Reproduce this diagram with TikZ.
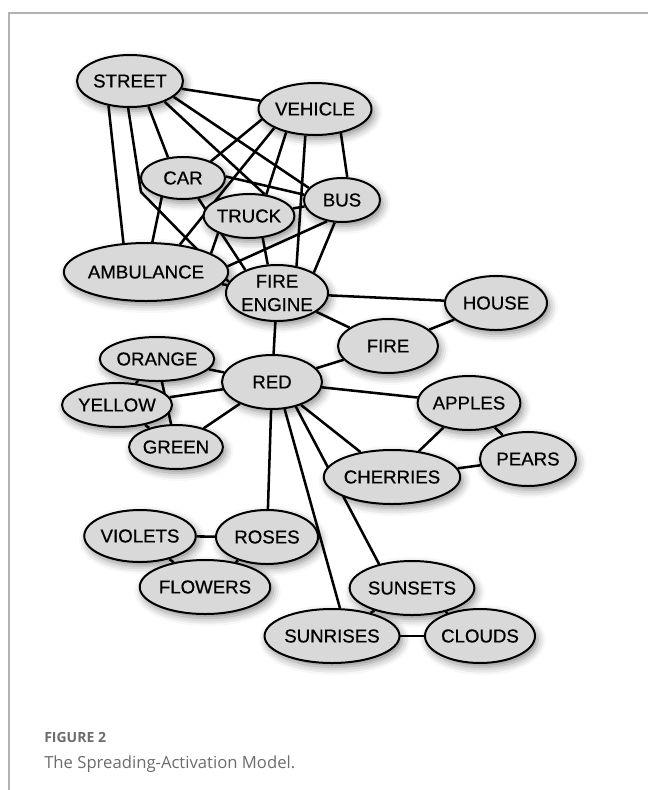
\documentclass[tikz,border=0pt]{standalone}
\usepackage{fontspec}
\setmainfont{Liberation Sans}
\newfontfamily\conceptfont{Liberation Sans}[FakeBold=0.6]
\newfontfamily\captfont{Open Sans}
\usetikzlibrary{shapes.geometric, shadows.blur, backgrounds}

\tikzset{
  concept/.style={ellipse, draw=black, line width=1.5pt, fill=gray!30, inner sep=0pt,
    align=center, font=\conceptfont\fontsize{14}{17.5}\selectfont,
    blur shadow={shadow xshift=2pt, shadow yshift=-3pt, shadow blur radius=6pt, shadow opacity=45}},
  sz/.style 2 args={minimum width=#1*1.5pt, minimum height=#2*1.5pt},
  link/.style={line width=1.9pt, black}
}

\begin{document}
\begin{tikzpicture}[x=0.75pt, y=-0.75pt]
    \useasboundingbox (0,0) rectangle (648,790);
    %--- frame ---
    \draw[gray!60, line width=1.1pt] (648,13) -- (9,13) -- (9,790);
    %--- vehicles ---
    \node[concept, sz={53}{26}] (street) at (130,81) {STREET};
    \node[concept, sz={50}{26}] (vehicle) at (315,109) {VEHICLE};
    \node[concept, sz={42}{21}] (car) at (183,178) {CAR};
    \node[concept, sz={41}{22}] (truck) at (249,216) {TRUCK};
    \node[concept, sz={38}{22}] (bus) at (342,200) {BUS};
    \node[concept, sz={62}{29}] (ambulance) at (146,272) {AMBULANCE};
    \node[concept, sz={51}{28}] (fireengine) at (277,293) {FIRE\\ENGINE};
    \node[concept, sz={51}{27}] (house) at (496,303) {HOUSE};
    \node[concept, sz={50}{27}] (fire) at (388,346) {FIRE};
    %--- colours ---
    \node[concept, sz={50}{27}] (red) at (272,382) {RED};
    \node[concept, sz={42}{22}] (orange) at (157,359) {ORANGE};
    \node[concept, sz={42}{22}] (yellow) at (117,405) {YELLOW};
    \node[concept, sz={42}{22}] (green) at (176,447) {GREEN};
    %--- fruit ---
    \node[concept, sz={51}{27}] (apples) at (469,403) {APPLES};
    \node[concept, sz={48}{27}] (pears) at (528,459) {PEARS};
    \node[concept, sz={48}{27}] (cherries) at (392,477) {CHERRIES};
    %--- flowers ---
    \node[concept, sz={48}{26}] (violets) at (140,536) {VIOLETS};
    \node[concept, sz={51}{27}] (roses) at (267,537) {ROSES};
    \node[concept, sz={52}{27}] (flowers) at (205,587) {FLOWERS};
    %--- sky ---
    \node[concept, sz={48}{27}] (sunsets) at (412,588) {SUNSETS};
    \node[concept, sz={50}{27}] (sunrises) at (332,636) {SUNRISES};
    \node[concept, sz={50}{27}] (clouds) at (480,636) {CLOUDS};
    \coordinate (bend) at (141,192);

    \begin{pgfonlayer}{background}
      \draw[link] (street) -- (vehicle);
      \draw[link] (street.340) -- (bus.160);
      \draw[link] (street.329) -- (truck.54);
      \draw[link] (street.306) -- (car.126);
      \draw[link] (street.266) -- (bend) -- (fireengine.167);
      \draw[link] (street.229) -- (ambulance.128);
      \draw[link] (vehicle.191) -- (car.31);
      \draw[link] (vehicle.205) -- (ambulance.39);
      \draw[link] (vehicle.219) -- (truck.51);
      \draw[link] (vehicle.250) -- (fireengine.54);
      \draw[link] (vehicle.317) -- (bus.77);
      \draw[link] (car.2) -- (bus.172);
      \draw[link] (car.222) -- (ambulance.78);
      \draw[link] (car.307) -- (fireengine.144);
      \draw[link] (truck) -- (bus);
      \draw[link] (truck.302) -- (fireengine.108);
      \draw[link] (truck.209) -- (ambulance.16);
      \draw[link] (bus.235) -- (ambulance.4);
      \draw[link] (bus.252) -- (fireengine.29);
      \draw[link] (ambulance) -- (fireengine);
      \draw[link] (fireengine) -- (house);
      \draw[link] (fireengine) -- (fire);
      \draw[link] (fireengine) -- (red);
      \draw[link] (fire) -- (house);
      \draw[link] (fire) -- (red);
      \draw[link] (red) -- (orange);
      \draw[link] (red) -- (yellow);
      \draw[link] (red) -- (green);
      \draw[link] (orange) -- (yellow);
      \draw[link] (orange) -- (green);
      \draw[link] (yellow) -- (green);
      \draw[link] (red) -- (apples);
      \draw[link] (red) -- (cherries);
      \draw[link] (apples) -- (cherries);
      \draw[link] (apples) -- (pears);
      \draw[link] (cherries) -- (pears);
      \draw[link] (red) -- (roses);
      \draw[link] (red.295) -- (sunrises.74);
      \draw[link] (red.314) -- (sunsets.144);
      \draw[link] (violets) -- (roses);
      \draw[link] (violets) -- (flowers);
      \draw[link] (roses) -- (flowers);
      \draw[link] (sunsets) -- (sunrises);
      \draw[link] (sunsets) -- (clouds);
      \draw[link] (sunrises) -- (clouds);
    \end{pgfonlayer}

    %--- caption ---
    \node[anchor=base west, inner sep=0pt, text=gray!85!black, font=\captfont\bfseries\fontsize{10.5}{12}\selectfont]
      (figno) at (44,742) {FIGURE 2};
    \node[anchor=base west, inner sep=0pt, text=gray!85!black, font=\captfont\fontsize{12.5}{15}\selectfont]
      (title) at (44,768) {The Spreading-Activation Model.};
\end{tikzpicture}
\end{document}
